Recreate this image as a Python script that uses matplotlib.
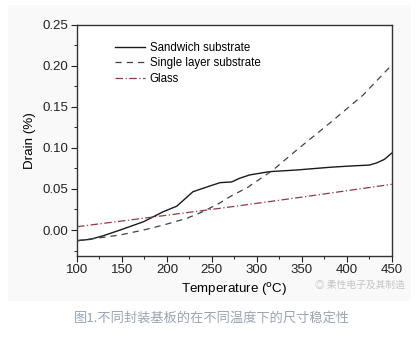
import matplotlib
matplotlib.use("Agg")
import matplotlib.pyplot as plt
from matplotlib.patches import Rectangle

plt.rcParams['font.family'] = ['Liberation Sans', 'DejaVu Sans']

# Dimensional change vs temperature for three substrates
temp_sandwich = [100, 115, 129, 148, 174, 196, 211, 229, 240, 259, 272, 281, 292, 314, 344, 381, 403, 425, 433, 442, 450]
drain_sandwich = [-0.013, -0.0113, -0.007, 0.0, 0.0101, 0.0223, 0.029, 0.0466, 0.0507, 0.0576, 0.0585, 0.063, 0.067, 0.071, 0.073, 0.0763, 0.0778, 0.079, 0.0815, 0.086, 0.0935]

temp_single = [100, 129, 148, 174, 196, 222, 240, 259, 270, 290, 318, 344, 381, 418, 450]
drain_single = [-0.013, -0.0089, -0.006, 0.0, 0.006, 0.0142, 0.0223, 0.033, 0.0405, 0.052, 0.073, 0.097, 0.13, 0.164, 0.2007]

temp_glass = [100, 200, 270, 350, 450]
drain_glass = [0.004, 0.018, 0.028, 0.040, 0.0556]

x_ticks = [100, 150, 200, 250, 300, 350, 400, 450]
y_ticks = [0.00, 0.05, 0.10, 0.15, 0.20, 0.25]

fig = plt.figure(figsize=(4.17, 3.40), dpi=100)
fig.patch.set_facecolor('white')
fig.patches.append(Rectangle((0.02, 0.115), 0.965, 0.87, transform=fig.transFigure,
                             facecolor='#f9f9f9', edgecolor='none', zorder=-10))

ax = fig.add_axes([77 / 417, 1 - 256 / 340, (391.7 - 77) / 417, (256 - 24.5) / 340])
ax.set_facecolor('white')

ax.plot(temp_sandwich, drain_sandwich, color='#1a1a1a', lw=1.0, ls='-', label='Sandwich substrate')
ax.plot(temp_single, drain_single, color='#3a4250', lw=0.9, ls=(0, (5, 4)), label='Single layer substrate')
ax.plot(temp_glass, drain_glass, color='#8e3a4a', lw=0.9, ls=(0, (6, 2, 1, 2)), label='Glass')

ax.set_xlim(100, 450)
ax.set_ylim(-0.0316, 0.25)
ax.set_xticks(x_ticks)
ax.set_xticklabels([str(t) for t in x_ticks])
ax.set_yticks(y_ticks)
ax.set_yticklabels([f"{v:.2f}" for v in y_ticks])
ax.set_xticks([125, 175, 225, 275, 325, 375, 425], minor=True)
ax.set_yticks([-0.025, 0.025, 0.075, 0.125, 0.175, 0.225], minor=True)
ax.tick_params(which='major', direction='out', length=4, width=0.8, labelsize=9.5, colors='#222222', pad=2)
ax.tick_params(which='minor', direction='out', length=2, width=0.7, colors='#222222')
for s in ax.spines.values():
    s.set_linewidth(1.0)
    s.set_color('#333333')

ax.set_xlabel('Temperature ($^{\\rm o}$C)', fontsize=9.6, labelpad=3)
ax.set_ylabel('Drain (%)', fontsize=9.6, labelpad=5)

leg = ax.legend(loc='upper left', bbox_to_anchor=(0.105, 0.945), frameon=False, fontsize=8.3,
                handlelength=2.6, handletextpad=0.45, labelspacing=0.3, borderaxespad=0)

fig.text(0.508, 0.065, '图1.不同封装基板的在不同温度下的尺寸稳定性', fontsize=9.5,
         color='#9aa4b4', style='italic', ha='center', va='center',
         family=['Noto Sans CJK SC', 'DejaVu Sans'])
fig.text(0.862, 0.163, '◎ 柔性电子及其制造', fontsize=7, color='#c4c4c4', ha='center', va='center',
         family=['Noto Sans CJK SC', 'DejaVu Sans'])

fig.savefig('out.png', dpi=100)
